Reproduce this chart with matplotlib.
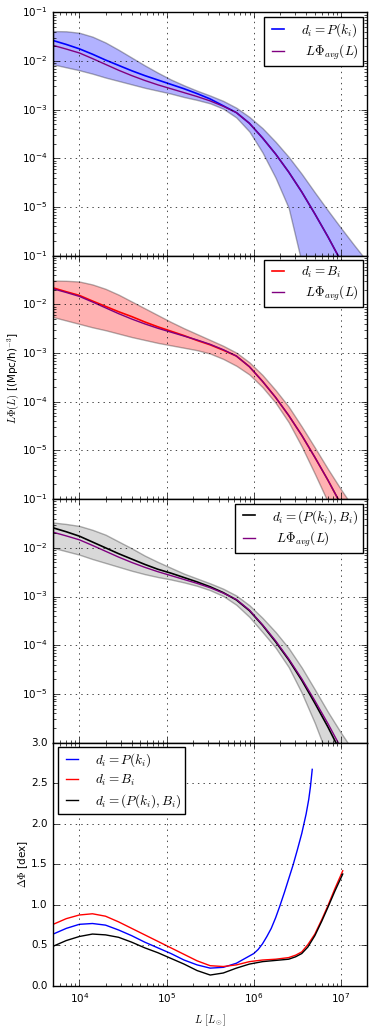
import numpy as np
import matplotlib
matplotlib.use('Agg')
import matplotlib.pyplot as plt

plt.style.use('classic')

# log10(L / L_sun) sampling of the luminosity functions
log_L = np.array([3.70, 3.85, 4.00, 4.15, 4.30, 4.45, 4.60, 4.75, 4.90, 5.05,
                  5.20, 5.35, 5.50, 5.65, 5.80, 5.95, 6.10, 6.25, 6.40, 6.55,
                  6.70, 6.85, 7.00, 7.15, 7.30])

# log10 of L*Phi [(Mpc/h)^-3]
avg_log = [-1.68, -1.755, -1.835, -1.95, -2.07, -2.19, -2.30, -2.40, -2.49, -2.57,
           -2.65, -2.73, -2.82, -2.93, -3.06, -3.28, -3.58, -3.91, -4.28, -4.69,
           -5.14, -5.61, -6.11, -6.63, -7.17]

pk_log = [-1.58, -1.66, -1.75, -1.86, -1.98, -2.09, -2.20, -2.30, -2.39, -2.48,
          -2.57, -2.67, -2.78, -2.92, -3.06, -3.28, -3.58, -3.91, -4.28, -4.69,
          -5.14, -5.61, -6.11, -6.63, -7.17]
pk_hi = [-1.385, -1.39, -1.42, -1.50, -1.62, -1.77, -1.93, -2.09, -2.24, -2.38,
         -2.50, -2.61, -2.71, -2.82, -2.96, -3.15, -3.38, -3.66, -3.97, -4.32,
         -4.70, -5.07, -5.43, -5.78, -6.12]
pk_lo = [-2.07, -2.13, -2.19, -2.26, -2.34, -2.41, -2.48, -2.55, -2.61, -2.67,
         -2.74, -2.80, -2.87, -2.98, -3.16, -3.45, -3.88, -4.40, -5.02, -6.15,
         -7.60, -9.00, -10.4, -11.8, -13.2]

bi_log = [-1.66, -1.74, -1.815, -1.93, -2.04, -2.15, -2.25, -2.36, -2.46, -2.55,
          -2.64, -2.74, -2.83, -2.94, -3.06, -3.28, -3.58, -3.91, -4.28, -4.69,
          -5.14, -5.61, -6.11, -6.63, -7.17]
bi_hi = [-1.51, -1.515, -1.53, -1.59, -1.68, -1.80, -1.94, -2.08, -2.22, -2.36,
         -2.49, -2.61, -2.73, -2.85, -2.99, -3.19, -3.45, -3.76, -4.10, -4.51,
         -4.94, -5.38, -5.80, -6.20, -6.60]
bi_lo = [-2.26, -2.33, -2.40, -2.47, -2.53, -2.60, -2.67, -2.73, -2.79, -2.84,
         -2.89, -2.94, -3.01, -3.12, -3.26, -3.44, -3.70, -4.02, -4.42, -4.92,
         -5.48, -6.06, -6.66, -7.28, -7.90]

both_log = [-1.59, -1.67, -1.76, -1.88, -2.00, -2.12, -2.23, -2.34, -2.44, -2.52,
            -2.61, -2.70, -2.80, -2.92, -3.07, -3.29, -3.59, -3.93, -4.30, -4.72,
            -5.19, -5.68, -6.21, -6.76, -7.33]
both_hi = [-1.48, -1.51, -1.55, -1.63, -1.73, -1.87, -2.01, -2.16, -2.29, -2.41,
           -2.53, -2.63, -2.73, -2.84, -2.98, -3.18, -3.44, -3.73, -4.06, -4.46,
           -4.91, -5.37, -5.80, -6.20, -6.60]
both_lo = [-2.00, -2.07, -2.14, -2.23, -2.31, -2.39, -2.47, -2.54, -2.60, -2.65,
           -2.71, -2.78, -2.87, -2.99, -3.17, -3.42, -3.73, -4.05, -4.45, -4.98,
           -5.60, -6.30, -7.00, -7.70, -8.40]

# Delta Phi [dex]
pk_dex_logL = [3.70, 3.85, 4.00, 4.15, 4.30, 4.45, 4.60, 4.75, 4.90, 5.05,
               5.20, 5.35, 5.50, 5.65, 5.80, 5.90, 6.00, 6.05, 6.10, 6.15,
               6.20, 6.25, 6.30, 6.35, 6.40, 6.45, 6.50, 6.55, 6.60, 6.63,
               6.65, 6.67]
pk_dex = [0.64, 0.71, 0.76, 0.77, 0.75, 0.69, 0.62, 0.54, 0.47, 0.40,
          0.32, 0.26, 0.22, 0.23, 0.28, 0.34, 0.40, 0.45, 0.52, 0.61,
          0.71, 0.84, 0.99, 1.15, 1.32, 1.49, 1.68, 1.88, 2.12, 2.30,
          2.46, 2.67]

dex_logL = [3.70, 3.85, 4.00, 4.15, 4.30, 4.45, 4.60, 4.75, 4.90, 5.05,
            5.20, 5.35, 5.50, 5.65, 5.80, 5.95, 6.10, 6.25, 6.40, 6.48,
            6.55, 6.62, 6.70, 6.78, 6.85, 6.93, 7.02]
bi_dex = [0.76, 0.83, 0.875, 0.89, 0.86, 0.79, 0.71, 0.63, 0.55, 0.47,
          0.39, 0.31, 0.25, 0.24, 0.26, 0.30, 0.32, 0.33, 0.35, 0.38,
          0.42, 0.51, 0.64, 0.82, 0.99, 1.20, 1.42]
both_dex = [0.49, 0.56, 0.61, 0.64, 0.63, 0.60, 0.54, 0.47, 0.41, 0.34,
            0.27, 0.19, 0.135, 0.16, 0.22, 0.27, 0.30, 0.315, 0.33, 0.36,
            0.40, 0.48, 0.62, 0.80, 0.97, 1.17, 1.38]

L = 10 ** log_L
avg = 10 ** np.array(avg_log)

fig, axes = plt.subplots(4, 1, sharex=True, figsize=(3.74, 10.26), dpi=100)
fig.subplots_adjust(left=0.142, right=0.982, top=0.988, bottom=0.039, hspace=0)

leg_kw = dict(fontsize=9.5, handlelength=1.5, handletextpad=1.0,
              labelspacing=0.3, borderpad=0.3, borderaxespad=0.35)

panels = [
    (pk_log, pk_hi, pk_lo, 'b', 'b', r'$d_i = P(k_i)$'),
    (bi_log, bi_hi, bi_lo, 'r', 'r', r'$d_i = B_i$'),
    (both_log, both_hi, both_lo, 'k', 'gray', r'$d_i = (P(k_i), B_i)$'),
]

for ax, (mid, hi, lo, lc, fc, lab) in zip(axes[:3], panels):
    ax.fill_between(L, 10 ** np.array(hi), 10 ** np.array(lo),
                    facecolor=fc, edgecolor='k', alpha=0.3)
    ax.plot(L, 10 ** np.array(mid), color=lc, lw=1.2, label=lab)
    ax.plot(L, avg, color='purple', lw=1.0, label=r' $L\Phi_{avg}(L)$')
    ax.set_yscale('log')
    ax.set_ylim(1e-6, 1e-1)
    ax.set_yticks([1e-5, 1e-4, 1e-3, 1e-2, 1e-1])
    ax.grid(True)
    ax.legend(loc='upper right', **leg_kw)

axes[1].set_ylabel(r'$L\Phi(L)$ [(Mpc/h)$^{-3}$]', fontsize=7.5, labelpad=1)

ax = axes[3]
ax.plot(10 ** np.array(pk_dex_logL), pk_dex, color='b', label=r'$d_i = P(k_i)$')
ax.plot(10 ** np.array(dex_logL), bi_dex, color='r', label=r'$d_i = B_i$')
ax.plot(10 ** np.array(dex_logL), both_dex, color='k', label=r'$d_i = (P(k_i), B_i)$')
ax.set_ylim(0, 3.0)
ax.set_yticks(np.arange(0, 3.01, 0.5))
ax.yaxis.set_major_formatter(matplotlib.ticker.FormatStrFormatter('%.1f'))
ax.grid(True)
ax.legend(loc='upper left', **leg_kw)
ax.set_ylabel(r'$\Delta\Phi$ [dex]', fontsize=7.5, labelpad=1)
ax.set_xlabel(r'$L\ [L_\odot]$', fontsize=7.5)
ax.set_xscale('log')
ax.set_xlim(5e3, 2e7)

for a in axes:
    a.tick_params(labelsize=7.5)

fig.savefig('out.png', dpi=100)
